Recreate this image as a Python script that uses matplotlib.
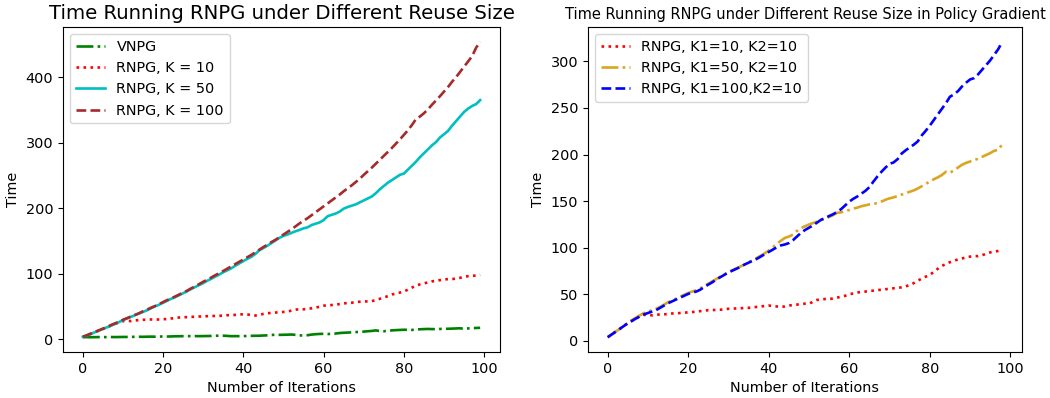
import matplotlib
matplotlib.use("Agg")
import matplotlib.pyplot as plt
import numpy as np

# left panel: 100 iterations
vnpg = [3.5, 3.5, 3.4, 3.5, 3.6, 3.5, 3.6, 3.7, 3.6, 3.7,
        3.8, 3.8, 3.9, 4.0, 4.1, 4.0, 4.2, 4.3, 4.2, 4.4,
        4.5, 4.4, 4.6, 4.8, 4.9, 5.0, 5.1, 5.0, 5.1, 5.0,
        5.1, 5.2, 5.3, 5.6, 5.8, 5.7, 5.4, 5.0, 5.1, 5.0,
        5.1, 5.3, 5.5, 5.6, 5.7, 6.0, 6.3, 6.8, 7.2, 7.0,
        7.1, 7.3, 7.5, 7.0, 6.2, 6.0, 6.5, 7.4, 8.0, 8.4,
        8.6, 8.3, 8.5, 9.0, 9.8, 10.2, 10.5, 10.8, 11.2, 11.6,
        12.0, 12.5, 13.0, 13.8, 12.8, 12.5, 13.2, 13.8, 14.2, 14.5,
        14.8, 14.7, 14.5, 15.2, 15.5, 15.8, 16.0, 15.8, 15.7, 16.0,
        16.2, 16.3, 16.5, 16.8, 17.0, 16.2, 16.8, 17.2, 17.5, 17.8]
rnpg_k10 = [4, 6, 8.5, 11, 13.5, 16, 18.5, 21, 23.5, 26,
            28, 28.5, 28, 29, 29.5, 30, 30, 30.5, 30, 30.5,
            31, 31, 32, 32.5, 33.5, 34, 34, 34.5, 34.5, 35,
            35, 35.5, 35.5, 36, 36, 36.5, 37, 37, 37.5, 38,
            38.5, 38, 37.5, 36.5, 37.5, 39, 40, 40.5, 41, 41.5,
            42, 42.5, 44, 45.5, 46, 46, 46.5, 47.5, 48.5, 50,
            51.5, 52, 52.5, 53, 54, 55, 55.5, 56, 57, 57.5,
            58, 58, 58.5, 60, 62, 64, 66, 68.5, 70, 71.5,
            73, 76, 79, 82, 84, 85.5, 87, 88.5, 89.5, 90.5,
            91.5, 92, 92, 93, 94, 95.5, 96.5, 97, 97.5, 98.5]
rnpg_k50 = [4, 6, 8.5, 11, 13.5, 16, 18.5, 21, 23.5, 26.5,
            29.5, 32, 34.5, 37, 39.5, 42, 44.5, 47.5, 50.5, 53,
            56, 59, 62, 64.5, 67.5, 70.5, 73.5, 77, 80, 83,
            86, 89.5, 92.5, 96, 99, 102.5, 105.5, 108.5, 112.5, 116,
            119.5, 123, 126, 130.5, 136, 139.5, 143, 147, 151, 155,
            158, 160, 162.5, 165, 167, 169.5, 171, 174.5, 176.5, 178.5,
            182, 188, 190, 192, 195, 199.5, 202, 204, 206, 209,
            212, 215, 218, 223, 229, 234, 239, 243, 247, 251,
            253, 259, 265, 271, 278, 284, 290, 296, 301, 308,
            313, 318, 326, 333, 340, 347, 352, 356, 359, 365]
rnpg_k100 = [4, 6.5, 9, 11.5, 14, 16.5, 19, 22, 24.5, 27,
             30, 32.5, 35, 37.5, 40, 43, 45.5, 48.5, 51, 54,
             57, 60, 62.5, 65.5, 68.5, 71.5, 74.5, 78, 81, 84.5,
             88, 91, 94.5, 98, 101, 104.5, 108, 111.5, 115, 118.5,
             122, 125.5, 129, 133, 137, 141, 144.5, 148.5, 152, 156,
             160, 164, 168, 172.5, 177, 181, 185, 189.5, 194, 198.5,
             203, 207.5, 212, 216.5, 221, 226, 230.5, 235, 240, 245,
             251, 256.5, 262, 268, 274, 280, 286, 292, 298.5, 305,
             312, 319, 327, 336, 340, 345, 351, 358, 364.5, 371,
             378, 385, 393, 400, 408, 416, 424, 432, 445, 454]

# right panel: 99 iterations
pg_k10 = [4, 7, 10, 13, 16, 19, 21.5, 24, 26.5, 28,
          28, 27.5, 28, 28.5, 28.5, 29, 29.5, 29.5, 30, 30.5,
          30.5, 31, 31.5, 32, 32.5, 33, 33, 33.5, 33.5, 34,
          34.5, 34.5, 35, 35, 35.5, 35.5, 36, 36.5, 37, 37.5,
          38, 37.5, 37, 36.5, 37, 38, 38.5, 39, 39.5, 40,
          40, 42, 44, 44.5, 45, 45, 45.5, 46.5, 47.5, 48.5,
          50, 51, 52, 52.5, 53, 53.5, 54, 54.5, 55, 55.5,
          56, 56.5, 57, 57.5, 58.5, 60, 62, 64.5, 67, 69,
          71, 74, 77.5, 80.5, 82.5, 84.5, 86, 87.5, 88.5, 89.5,
          90.5, 91, 91, 92, 93.5, 95, 96, 96.5, 97.5]
pg_k50 = [4, 7, 10, 13, 16.5, 19.5, 22.5, 25, 27.5, 30,
          31.5, 33, 34.5, 36.5, 39, 41.5, 43.5, 45.5, 47.5, 49.5,
          51.5, 53, 54.5, 56.5, 59, 61.5, 64, 66.5, 69, 71.5,
          74, 76, 78, 80, 82, 84.5, 86.5, 89, 91.5, 94,
          97, 100.5, 104, 107.5, 110.5, 112, 114, 118, 121, 123,
          125, 126.5, 128, 129.5, 131, 133, 135, 137.5, 138, 139.5,
          140.5, 142, 143, 144.5, 145.5, 146.5, 147, 148, 149.5, 151.5,
          153, 154, 155.5, 157, 158.5, 160, 161.5, 163.5, 166, 168.5,
          171, 173.5, 175.5, 178, 181.5, 180.5, 183, 186, 189, 191,
          192.5, 194, 195.5, 197.5, 199.5, 201.5, 204, 205, 211]
pg_k100 = [4, 7, 10, 13, 16, 19, 21.5, 24, 26.5, 28.5,
           30, 31.5, 33, 35.5, 38, 40.5, 42.5, 44.5, 46.5, 48.5,
           50.5, 52, 53, 55, 58, 60.5, 63, 66, 68.5, 71,
           73.5, 75.5, 77.5, 79.5, 82, 84, 86, 88, 90.5, 93,
           95.5, 98, 100.5, 102.5, 103.5, 105, 108, 112, 116, 119,
           121.5, 124, 127, 130, 132, 134, 136, 138.5, 141.5, 145.5,
           149.5, 152.5, 155, 158, 161, 165, 171, 176.5, 181.5, 186,
           190, 191.5, 195, 201, 204.5, 207.5, 210.5, 214, 220.5, 225.5,
           231, 237, 243, 249, 255, 262, 264.5, 268, 273, 277,
           280.5, 282, 286, 291, 296, 301, 307, 313, 321]

plt.rcParams['font.size'] = 10.4

fig = plt.figure(figsize=(10.5, 3.98), dpi=100)
ax1 = fig.add_axes([0.06, 0.1156, 0.4162, 0.8166])
ax2 = fig.add_axes([0.56, 0.1156, 0.4133, 0.8166])

it = np.arange(len(vnpg))
ax1.plot(it, vnpg, 'g-.', lw=1.9, label="VNPG")
ax1.plot(it, rnpg_k10, 'r:', lw=1.9, label="RNPG, K = 10")
ax1.plot(it, rnpg_k50, 'c-', lw=1.9, label="RNPG, K = 50")
ax1.plot(it, rnpg_k100, '--', color='brown', lw=1.9, label="RNPG, K = 100")
ax1.set_title("Time Running RNPG under Different Reuse Size", fontsize=14.2)
ax1.set_xlabel("Number of Iterations")
ax1.set_ylabel("Time")
ax1.legend(loc="upper left")

it2 = np.arange(len(pg_k10))
ax2.plot(it2, pg_k10, 'r:', lw=1.9, label="RNPG, K1=10, K2=10")
ax2.plot(it2, pg_k50, '-.', color='goldenrod', lw=1.9, label="RNPG, K1=50, K2=10")
ax2.plot(it2, pg_k100, 'b--', lw=1.9, label="RNPG, K1=100,K2=10")
ax2.set_title("Time Running RNPG under Different Reuse Size in Policy Gradient", fontsize=10.5)
ax2.set_xlabel("Number of Iterations")
ax2.set_ylabel("Time")
ax2.legend(loc="upper left")

fig.savefig("out.png", dpi=100)
